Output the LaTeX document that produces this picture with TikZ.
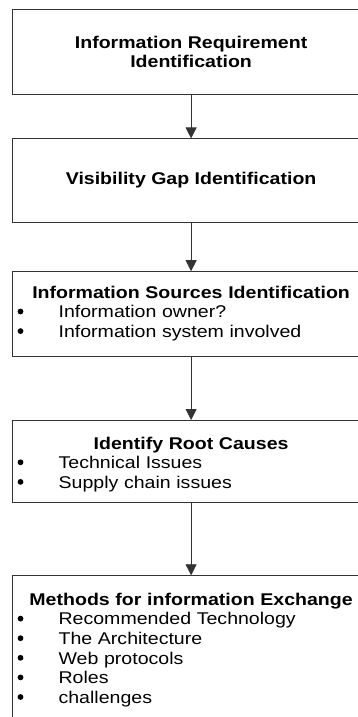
\documentclass[tikz,border=0pt]{standalone}
\usepackage{fontspec}
\setmainfont[FakeStretch=1.15]{Liberation Sans}
\usetikzlibrary{arrows.meta}

% one bullet line in a list box
\newcommand{\itm}{\par\makebox[46pt][l]{\hspace{5pt}\tikz[baseline=-6.3pt]\fill[black] (0,0) circle (2.9pt);}}

\begin{document}
\begin{tikzpicture}[x=1pt,y=1pt]
    % `stage' is a box with a bold caption only.
    % `listbox' is a box with a caption and a list of bullets.
    % `flow' is used for the arrows between the boxes.
    \tikzstyle{stage} = [draw=black!80,line width=0.8pt,minimum width=357pt,inner sep=0pt,outer sep=0pt,align=center,font=\fontsize{17}{19.6}\selectfont\bfseries]
    \tikzstyle{listbox} = [draw=black!80,line width=0.8pt,text width=357pt,inner sep=0pt,outer sep=0pt,align=left,font=\fontsize{17}{19.6}\selectfont]
    \tikzstyle{flow} = [draw=black!80,line width=0.8pt,-{Triangle[width=11pt,length=11pt]}]
    %
    \useasboundingbox (0,0) rectangle (358,-717);
    \clip (0,0) rectangle (358,-717);
    \matrix[row sep=0pt,inner sep=0pt,anchor=north west] (steps) at (12,-9) {
      \node[stage,minimum height=85pt] (req) {Information Requirement\\Identification}; \\[43pt]

      \node[stage,minimum height=84pt] (gap) {Visibility Gap Identification}; \\[48pt]

      \node[listbox,text height=27pt,text depth=58pt] (sources) {{\centering\bfseries Information Sources Identification\par}%
        \itm Information owner?\itm Information system involved}; \\[63pt]

      \node[listbox,text height=29pt,text depth=53.5pt] (causes) {{\centering\bfseries Identify Root Causes\par}%
        \itm Technical Issues\itm Supply chain issues}; \\[72pt]

      \node[listbox,text height=30pt,text depth=150pt] (methods) {{\centering\bfseries Methods for information Exchange\par}%
        \itm Recommended Technology\itm The Architecture\itm Web protocols\itm Roles\itm challenges}; \\
    };
    % Draw arrows.
    \draw[flow] (req) -- (gap);
    \draw[flow] (gap) -- (sources);
    \draw[flow] (sources) -- (causes);
    \draw[flow] (causes) -- (methods);
\end{tikzpicture}
\end{document}
